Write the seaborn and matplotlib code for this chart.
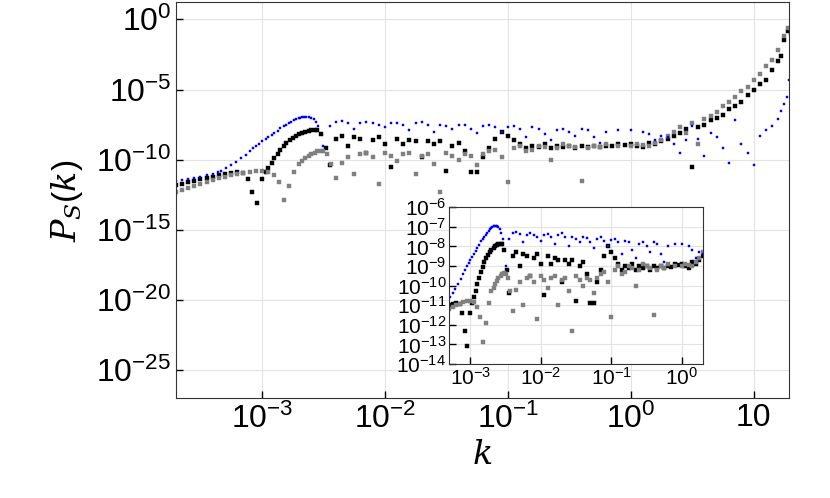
import numpy as np
import pandas as pd
import matplotlib
matplotlib.use("Agg")
import matplotlib.pyplot as plt
import seaborn as sns

# log10(k), log10(P)
blue_logk = [-3.7, -3.65, -3.6, -3.55, -3.5, -3.45, -3.4, -3.36, -3.33, -3.29, -3.25, -3.21, -3.17, -3.13, -3.1,
             -3.07, -3.05, -3.02, -3.0, -2.97, -2.95, -2.92, -2.9, -2.87, -2.85, -2.82, -2.8, -2.78, -2.76,
             -2.74, -2.72, -2.7, -2.69, -2.67, -2.66, -2.64, -2.62, -2.6, -2.58, -2.56, -2.54, -2.5, -2.45, -2.4,
             -2.35, -2.3, -2.25, -2.2, -2.15, -2.1,
             -2.05, -2.0, -1.95, -1.9, -1.85, -1.8, -1.75, -1.7, -1.65, -1.6, -1.55, -1.5, -1.45, -1.4, -1.35,
             -1.3, -1.25, -1.2, -1.15, -1.1, -1.05, -1.0, -0.95, -0.9, -0.85, -0.8, -0.75, -0.7, -0.65, -0.6,
             -0.55, -0.5, -0.45, -0.4, -0.35, -0.3, -0.25, -0.2, -0.1, 0.0, 0.1, 0.15, 0.2, 0.25, 0.3, 0.35,
             0.4, 0.45, 0.5, 0.55, 0.6, 0.65, 0.7, 0.75, 0.8, 0.85, 0.9, 0.95, 1.0, 1.05, 1.1, 1.15, 1.2,
             1.22, 1.25, 1.27, 1.29]
blue_logp = [-11.5, -11.42, -11.35, -11.28, -11.2, -11.1, -11.0, -10.9, -10.8, -10.6, -10.4, -10.15, -9.9, -9.65, -9.4,
             -9.2, -9.0, -8.85, -8.7, -8.55, -8.4, -8.25, -8.1, -7.92, -7.75, -7.62, -7.5, -7.4, -7.3,
             -7.2, -7.1, -7.05, -7.0, -6.97, -6.95, -6.94, -6.95, -7.0, -7.1, -7.3, -7.6, -9.0, -7.6, -7.3,
             -7.25, -7.35, -7.8, -7.4, -7.3, -7.4,
             -7.5, -7.7, -7.4, -7.35, -7.5, -7.9, -7.4, -7.3, -7.5, -8.0, -7.5, -7.6, -7.8, -7.5, -7.55,
             -7.8, -8.1, -7.6, -7.5, -7.7, -8.0, -7.65, -7.6, -7.8, -8.4, -7.7, -7.8, -8.2, -8.6, -7.9,
             -7.8, -8.0, -8.3, -7.8, -7.9, -8.4, -8.8, -8.0, -7.9, -7.9, -8.0, -8.2, -8.6, -8.3, -8.4, -8.9,
             -9.5, -8.6, -7.6, -8.5, -9.7, -8.1, -8.4, -9.2, -10.2, -7.2, -8.9, -9.5, -10.4, -8.3, -7.9, -7.6,
             -7.1, -6.5, -6.0, -5.5, -4.3]

black_logk = [-3.7, -3.65, -3.6, -3.55, -3.5, -3.45, -3.4, -3.35, -3.3, -3.25, -3.2, -3.15, -3.11, -3.08, -3.04,
              -3.0, -2.97, -2.95, -2.92, -2.9, -2.87, -2.85, -2.82, -2.8, -2.77,
              -2.75, -2.72, -2.7, -2.67, -2.65, -2.62, -2.6, -2.57, -2.55, -2.52, -2.48, -2.45, -2.4, -2.35, -2.3,
              -2.25, -2.2, -2.15, -2.1,
              -2.05, -2.0, -1.95, -1.9, -1.85, -1.8, -1.75, -1.7, -1.65, -1.6, -1.55, -1.5, -1.45, -1.4, -1.35,
              -1.3, -1.25, -1.2, -1.15, -1.1, -1.05, -1.0, -0.95, -0.9, -0.85, -0.8, -0.75, -0.7, -0.65, -0.6,
              -0.55, -0.5, -0.45, -0.4, -0.35, -0.3, -0.25, -0.2, -0.15, -0.1, -0.05, 0.0, 0.05, 0.1, 0.15,
              0.2, 0.25, 0.3, 0.35, 0.4, 0.45, 0.5, 0.55, 0.6, 0.65, 0.7, 0.75, 0.8, 0.85, 0.9, 0.95, 1.0,
              1.05, 1.1, 1.15, 1.2, 1.22, 1.25, 1.28, 1.3]
black_logp = [-11.8, -11.7, -11.6, -11.5, -11.4, -11.3, -11.2, -11.1, -11.0, -10.95, -10.9, -10.95, -11.4, -12.3, -13.1,
              -11.4, -10.9, -10.6, -10.25, -9.9, -9.6, -9.3, -9.05, -8.8, -8.6,
              -8.45, -8.3, -8.2, -8.1, -8.0, -7.95, -7.9, -7.88, -7.9, -8.2, -9.2, -10.4, -8.5, -8.3, -9.0,
              -8.4, -8.5, -9.5, -8.6,
              -8.4, -8.9, -10.5, -8.5, -8.9, -8.6, -8.7, -9.8, -8.7, -8.9, -8.7, -10.8, -9.0, -8.8, -9.4,
              -10.9, -10.9, -9.8, -9.2, -8.5, -8.0, -8.3, -8.6, -8.9, -9.2, -9.0, -9.1, -8.9, -9.2, -9.0,
              -9.1, -9.0, -9.2, -9.0, -9.1, -9.0, -9.1, -9.0, -9.05, -8.9, -8.95, -8.9, -9.0, -9.1, -8.8,
              -8.9, -8.7, -8.5, -8.3, -8.1, -7.8, -10.5, -7.7, -7.5, -7.2, -7.0, -6.8, -6.4, -6.2, -5.9, -5.4, -5.0,
              -4.6, -4.3, -3.6, -3.0, -2.6, -1.5, -0.8, -1.0]

gray_logk = [-3.7, -3.65, -3.6, -3.55, -3.5, -3.45, -3.4, -3.35, -3.3, -3.25, -3.2, -3.15, -3.1, -3.05, -3.0,
             -2.95, -2.9, -2.86, -2.82, -2.78, -2.74, -2.7, -2.67,
             -2.65, -2.62, -2.6, -2.57, -2.55, -2.52, -2.5, -2.47, -2.44, -2.4, -2.35, -2.3, -2.25, -2.2, -2.15,
             -2.1, -2.05, -2.0,
             -1.95, -1.9, -1.85, -1.8, -1.75, -1.7, -1.65, -1.6, -1.55, -1.5, -1.45, -1.4, -1.35, -1.3, -1.25,
             -1.2, -1.15, -1.1, -1.05, -1.0, -0.95, -0.9, -0.85, -0.8, -0.75, -0.7, -0.65, -0.6, -0.55, -0.5,
             -0.45, -0.4, -0.35, -0.3, -0.25, -0.2, -0.1, 0.0, 0.05, 0.1, 0.15, 0.2, 0.25, 0.3, 0.35, 0.4,
             0.45, 0.5, 0.55, 0.6, 0.65, 0.7, 0.75, 0.8, 0.85, 0.9, 0.95, 1.0, 1.05, 1.1, 1.15, 1.2, 1.25, 1.28]
gray_logp = [-12.3, -12.15, -12.0, -11.85, -11.7, -11.57, -11.45, -11.32, -11.2, -11.1, -11.0, -10.92, -10.85, -10.8,
             -10.8, -10.85, -11.1, -11.6, -12.9, -11.9, -10.9, -10.3, -10.1,
             -9.9, -9.75, -9.6, -9.5, -9.4, -9.38, -9.4, -9.6, -10.3, -11.3, -10.2, -9.8, -11.0, -9.6, -9.5,
             -9.8, -11.7, -9.5,
             -9.7, -10.1, -9.6, -9.5, -11.0, -9.7, -9.6, -10.3, -12.3, -9.5, -9.7, -10.0, -9.6, -9.7, -10.4,
             -9.6, -9.4, -9.3, -9.8, -11.6, -9.2, -9.0, -9.4, -9.3, -9.0, -9.1, -10.0, -9.2, -8.9, -9.0,
             -9.1, -11.5, -9.2, -9.0, -9.1, -8.9, -9.0, -9.0, -8.9, -8.95, -9.0, -8.8, -8.6, -8.3, -8.0, -7.7,
             -8.1, -7.4, -8.9, -7.1, -6.9, -6.6, -6.2, -5.9, -5.5, -5.1, -4.8, -4.3, -3.9, -3.3, -2.9, -2.2, -1.2, -0.6]

x_ticks = [1e-3, 1e-2, 1e-1, 1e0, 1e1]
x_labels = [r"$10^{-3}$", r"$10^{-2}$", r"$10^{-1}$", r"$10^{0}$", "10"]
y_ticks = [1e0, 1e-5, 1e-10, 1e-15, 1e-20, 1e-25]
y_labels = [r"$10^{0}$", r"$10^{-5}$", r"$10^{-10}$", r"$10^{-15}$", r"$10^{-20}$", r"$10^{-25}$"]
in_x_ticks = [1e-3, 1e-2, 1e-1, 1e0]
in_x_labels = [r"$10^{-3}$", r"$10^{-2}$", r"$10^{-1}$", r"$10^{0}$"]
in_y_ticks = [10.0 ** -e for e in range(6, 15)]
in_y_labels = [r"$10^{-%d}$" % e for e in range(6, 15)]

plt.rcParams["font.family"] = "Liberation Sans"
plt.rcParams["mathtext.fontset"] = "custom"
plt.rcParams["mathtext.rm"] = "Liberation Sans"
plt.rcParams["mathtext.it"] = "DejaVu Serif:italic"

series = [
    (black_logk, black_logp, "black", 7),
    (gray_logk, gray_logp, "#808080", 7),
    (blue_logk, blue_logp, "#0000ff", 3),
]

fig = plt.figure(figsize=(8.3, 4.98), dpi=100)
ax = fig.add_axes([0.212, 0.2, 0.739, 0.795])
ins = fig.add_axes([0.541, 0.269, 0.306, 0.315])

for a in (ax, ins):
    for lk, lp, col, sz in series:
        df = pd.DataFrame({"k": 10.0 ** np.array(lk), "P": 10.0 ** np.array(lp)})
        sns.scatterplot(data=df, x="k", y="P", ax=a, color=col, marker="s", s=sz,
                        linewidth=0.3, edgecolor=col)
    a.set_xscale("log")
    a.set_yscale("log")
    a.grid(True, color="#e3e3e3", linewidth=0.8)
    a.set_axisbelow(True)
    a.tick_params(direction="in", length=5, width=1)
    a.minorticks_off()
    for sp in a.spines.values():
        sp.set_color("#333333")

ax.set_xlim(2e-4, 19.5)
ax.set_ylim(1e-27, 10 ** 1.2)
ax.set_xticks(x_ticks)
ax.set_xticklabels(x_labels, fontsize=23)
ax.set_yticks(y_ticks)
ax.set_yticklabels(y_labels, fontsize=23)
ax.set_xlabel(r"$k$", fontsize=24)
ax.set_ylabel(r"$P_S(k)$", fontsize=24, labelpad=8)

ins.set_xlim(5e-4, 2.0)
ins.set_ylim(1e-14, 1e-6)
ins.set_xticks(in_x_ticks)
ins.set_xticklabels(in_x_labels, fontsize=15)
ins.set_yticks(in_y_ticks)
ins.set_yticklabels(in_y_labels, fontsize=15)
ins.tick_params(pad=2)
ins.set_xlabel("")
ins.set_ylabel("")

fig.savefig("out.png", dpi=100)
